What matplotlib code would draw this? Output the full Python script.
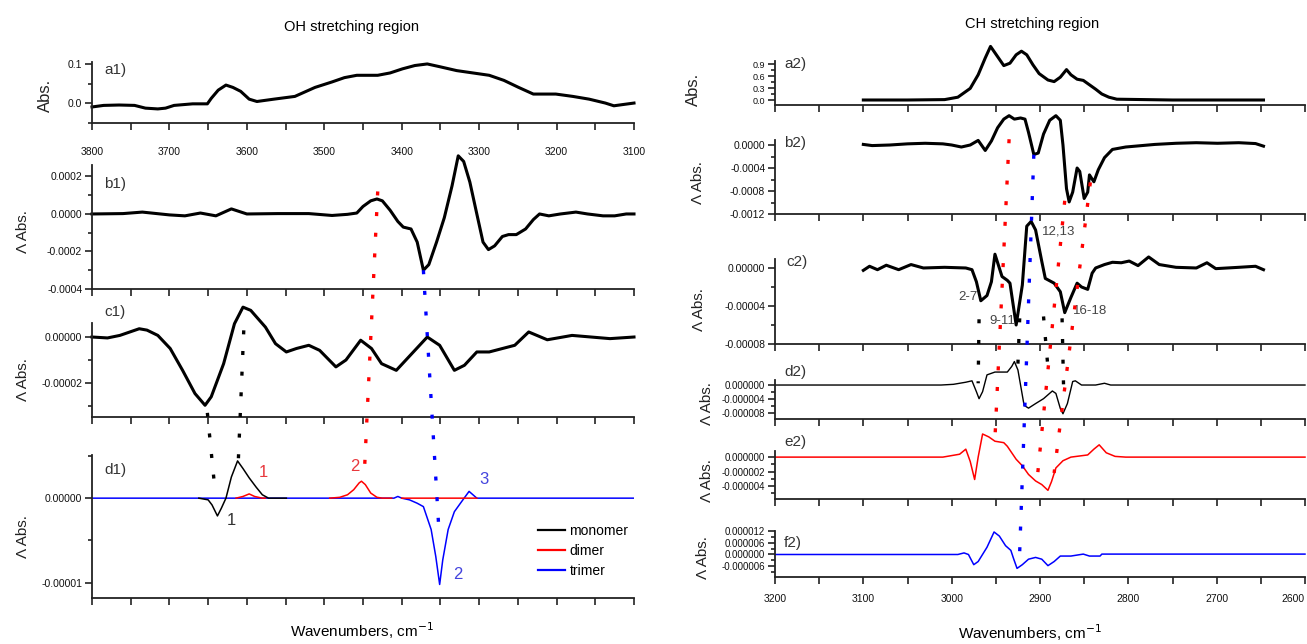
import matplotlib
matplotlib.use('Agg')
import matplotlib.pyplot as plt
from matplotlib.patches import ConnectionPatch
import numpy as np

plt.rcParams['font.family'] = ['Liberation Sans Narrow', 'Liberation Sans', 'DejaVu Sans']

# ---------------- OH stretching region (left column) ----------------
a1_wn = [3800, 3785, 3765, 3745, 3731, 3715, 3705, 3694, 3670, 3651,
         3646, 3637, 3627, 3618, 3608, 3597, 3587, 3565, 3538, 3512,
         3490, 3474, 3458, 3431, 3415, 3399, 3383, 3367, 3351, 3329,
         3308, 3287, 3268, 3249, 3230, 3201, 3179, 3158, 3137, 3126,
         3115, 3100]
a1_abs = [-0.010, -0.006, -0.005, -0.006, -0.013, -0.015, -0.013, -0.006, -0.002, -0.002,
          0.012, 0.033, 0.046, 0.040, 0.030, 0.010, 0.004, 0.010, 0.017, 0.040,
          0.054, 0.065, 0.071, 0.071, 0.077, 0.0875, 0.096, 0.100, 0.093, 0.083,
          0.077, 0.071, 0.058, 0.040, 0.023, 0.023, 0.017, 0.010, 0.0, -0.007,
          -0.004, 0.0]

b1_wn = [3800, 3760, 3735, 3700, 3680, 3660, 3640, 3620, 3600, 3560,
         3520, 3490, 3470, 3458, 3450, 3440, 3432, 3425, 3415, 3405,
         3398, 3388, 3380, 3372, 3365, 3355, 3345, 3335, 3327, 3320,
         3312, 3303, 3295, 3288, 3280, 3270, 3262, 3252, 3240, 3230,
         3222, 3210, 3195, 3175, 3160, 3140, 3125, 3110, 3100]
b1_dabs = [0, 2e-6, 1e-5, -5e-6, -1e-5, 5e-6, -1e-5, 2.7e-5, 0, 2e-6,
           2e-6, -8e-6, -2e-6, 5e-6, 4e-5, 7e-5, 8e-5, 7e-5, 2e-5, -4e-5,
           -7e-5, -8e-5, -1.5e-4, -3.0e-4, -2.7e-4, -1.5e-4, -2e-5, 1.5e-4, 3.1e-4, 2.8e-4,
           1.7e-4, 0, -1.5e-4, -1.9e-4, -1.7e-4, -1.2e-4, -1.1e-4, -1.1e-4, -8e-5, -3e-5,
           0, -1e-5, 0, 1e-5, 0, -1e-5, -1e-5, 0, 0]

c1_wn = [3800, 3780, 3764, 3739, 3729, 3715, 3699, 3683, 3667, 3654,
         3646, 3630, 3616, 3605, 3595, 3576, 3563, 3549, 3536, 3520,
         3506, 3485, 3472, 3453, 3439, 3426, 3407, 3391, 3367, 3351,
         3332, 3319, 3303, 3287, 3254, 3236, 3212, 3180, 3131, 3100]
c1_dabs = [0, -0.4e-6, 0.7e-6, 3.6e-6, 3.0e-6, 0.7e-6, -5.0e-6, -14.5e-6, -24.6e-6, -29.7e-6,
           -26.0e-6, -11.6e-6, 5.8e-6, 13.0e-6, 11.6e-6, 4.3e-6, -2.9e-6, -6.5e-6, -5.0e-6, -3.6e-6,
           -5.8e-6, -13.0e-6, -10.0e-6, -1.4e-6, -5.0e-6, -11.6e-6, -14.5e-6, -8.7e-6, 0.0, -3.6e-6,
           -14.5e-6, -12.3e-6, -6.5e-6, -6.5e-6, -3.6e-6, 2.2e-6, -1.2e-6, 0.7e-6, -0.7e-6, 0.0]

mono_wn = [3662, 3650, 3645, 3638, 3633, 3627, 3620, 3612, 3605, 3597, 3588, 3580, 3572, 3549]
mono_dabs = [0, -2e-7, -8e-7, -2.1e-6, -1.2e-6, 0, 2.5e-6, 4.4e-6, 3.5e-6, 2.4e-6, 1.3e-6, 4e-7, 0, 0]
dimer_wn = [3614, 3605, 3597, 3590, 3580, 3576, np.nan,
            3493, 3480, 3470, 3462, 3455, 3452, 3447, 3440, 3432, 3425, 3413, np.nan,
            3400, 3303]
dimer_dabs = [0, 2e-7, 5e-7, 2e-7, 0, 0, np.nan,
              0, 1e-7, 4e-7, 1e-6, 1.8e-6, 2e-6, 1.6e-6, 6e-7, 1e-7, 0, 0, np.nan,
              0, 0]
trimer_wn = [3800, 3410, 3405, 3400, 3390, 3380, 3372, 3362, 3356, 3351,
             3347, 3340, 3332, 3321, 3313, 3303, 3100]
trimer_dabs = [0, 0, 2e-7, 0, -2e-7, -6e-7, -1.0e-6, -3.7e-6, -6.9e-6, -1.02e-5,
               -7.3e-6, -3.7e-6, -1.6e-6, -2e-7, 8e-7, 0, 0]

# ---------------- CH stretching region (right column) ----------------
a2_wn = [3100, 3050, 3008, 2993, 2979, 2970, 2962, 2956, 2951, 2941,
         2934, 2927, 2921, 2915, 2908, 2901, 2891, 2884, 2877, 2870,
         2865, 2858, 2851, 2844, 2837, 2830, 2822, 2813, 2750, 2700, 2647]
a2_abs = [0, 0, 0.01, 0.07, 0.29, 0.63, 1.05, 1.34, 1.18, 0.86,
          0.92, 1.13, 1.22, 1.13, 0.88, 0.66, 0.50, 0.46, 0.57, 0.76,
          0.63, 0.52, 0.49, 0.38, 0.27, 0.15, 0.07, 0.02, 0.0, 0.0, 0.0]

b2_wn = [3100, 3090, 3070, 3050, 3030, 3010, 3000, 2989, 2979, 2970,
         2962, 2955, 2948, 2941, 2935, 2929, 2922, 2917, 2913, 2907,
         2902, 2896, 2889, 2882, 2877, 2874, 2870, 2867, 2863, 2858,
         2855, 2850, 2846, 2844, 2839, 2834, 2827, 2818, 2803, 2770,
         2746, 2723, 2699, 2675, 2656, 2647]
b2_dabs = [1e-5, -1e-5, 0, 2e-5, 3e-5, 2e-5, 0, -3.5e-5, 0, 8e-5,
           -9.5e-5, 7e-5, 3e-4, 4.5e-4, 5.1e-4, 4.5e-4, 4.7e-4, 4.5e-4, 2.2e-4, -1.65e-4,
           -1.4e-4, 1.9e-4, 4.3e-4, 5.1e-4, 4.3e-4, 0, -7.6e-4, -9.9e-4, -8.2e-4, -4.0e-4,
           -4.6e-4, -9.3e-4, -8.2e-4, -5.2e-4, -6.4e-4, -4.3e-4, -2.2e-4, -7.7e-5, -3.5e-5, 1e-5,
           3e-5, 4e-5, 3e-5, 4e-5, 2.5e-5, -2e-5]

c2_wn = [3100, 3093, 3084, 3074, 3060, 3046, 3032, 3008, 2984, 2977,
         2972, 2967, 2960, 2955, 2951, 2943, 2937, 2934, 2927, 2920,
         2915, 2910, 2905, 2898, 2894, 2884, 2877, 2872, 2865, 2858,
         2853, 2846, 2841, 2837, 2827, 2818, 2808, 2799, 2789, 2777,
         2765, 2746, 2723, 2711, 2701, 2675, 2656, 2647]
c2_dabs = [-2.5e-6, 1.8e-6, -1.8e-6, 2.9e-6, -1.8e-6, 3.6e-6, 0, 0.7e-6, 0, -1.8e-6,
           -14.5e-6, -34.5e-6, -29e-6, -14.5e-6, 14.5e-6, -9e-6, -13e-6, -16e-6, -60e-6, -18e-6,
           44e-6, 49e-6, 40e-6, 7e-6, -11e-6, -16e-6, -25e-6, -47e-6, -31e-6, -16e-6,
           -20e-6, -22.5e-6, -5.5e-6, 0, 3.6e-6, 6e-6, 5.5e-6, 7.3e-6, 2.5e-6, 11.6e-6,
           3.6e-6, 0.7e-6, 0, 5.5e-6, -0.7e-6, 0.7e-6, 1.8e-6, -1.8e-6]

d2_wn = [3200, 3012, 2998, 2984, 2977, 2972, 2969, 2965, 2960, 2951,
         2937, 2932, 2929, 2925, 2918, 2913, 2905, 2896, 2886, 2882,
         2877, 2874, 2869, 2863, 2860, 2853, 2837, 2827, 2820, 2600]
d2_dabs = [0, 0, 0.2e-6, 0.8e-6, 1.2e-6, -1.9e-6, -3.9e-6, -1.9e-6, 2.9e-6, 3.7e-6,
           3.7e-6, 5.3e-6, 6.7e-6, 4.3e-6, -5.8e-6, -6.6e-6, -5.3e-6, -3.9e-6, -1.7e-6, -2.4e-6,
           -6.7e-6, -8.2e-6, -5.3e-6, 1.0e-6, 1.2e-6, 0, 0, 0.5e-6, 0, 0]

e2_wn = [3200, 3010, 2991, 2984, 2979, 2974, 2970, 2965, 2958, 2951,
         2941, 2937, 2927, 2920, 2913, 2905, 2898, 2891, 2887, 2882,
         2874, 2865, 2846, 2839, 2833, 2825, 2815, 2803, 2600]
e2_dabs = [0, 0, 0.4e-6, 1.1e-6, -0.6e-6, -3.1e-6, 0, 3.2e-6, 2.8e-6, 2.2e-6,
           2.0e-6, 1.5e-6, -0.3e-6, -1.2e-6, -2.4e-6, -3.3e-6, -3.8e-6, -4.6e-6, -3.4e-6, -1.5e-6,
           -0.5e-6, 0, 0.3e-6, 1.1e-6, 1.7e-6, 0.6e-6, 0.1e-6, 0, 0]

f2_wn = [3200, 2993, 2986, 2981, 2975, 2970, 2960, 2952, 2946, 2939,
         2933, 2930, 2926, 2920, 2913, 2905, 2898, 2891, 2884, 2877,
         2865, 2858, 2851, 2844, 2832, 2830, 2600]
f2_dabs = [0, 0, 0.8e-6, 0, -5.2e-6, -3.6e-6, 3.7e-6, 11.5e-6, 9.4e-6, 4.5e-6,
           2.1e-6, -2.0e-6, -7.1e-6, -5.2e-6, -2.4e-6, -1.5e-6, -2.4e-6, -5.7e-6, -3.6e-6, -0.8e-6,
           -0.8e-6, -0.3e-6, 0.2e-6, -0.8e-6, -0.8e-6, 0.2e-6, 0.2e-6]

# dotted guide lines: colour, panel A, (wn, value), panel B, (wn, value)
guide_links = [
    ('red', 'b1', 3431, 1.2e-4, 'd1', 3448, 3.5e-6),
    ('blue', 'b1', 3372, -3.0e-4, 'd1', 3352, -3.7e-6),
    ('blue', 'b1', 3327, 3.3e-4, 'd1', 3313, 2.0e-6),
    ('black', 'c1', 3604, 2.9e-6, 'd1', 3611, 4.5e-6),
    ('black', 'c1', 3651, -3.3e-5, 'd1', 3641, 0.8e-6),
    ('red', 'b2', 2935, 1.0e-4, 'e2', 2951, 2.6e-6),
    ('red', 'b2', 2872, -9.7e-4, 'e2', 2903, -2.8e-6),
    ('red', 'b2', 2843, -6.5e-4, 'e2', 2884, -2.2e-6),
    ('blue', 'b2', 2907, -1.7e-4, 'f2', 2923, 1.3e-6),
    ('black', 'c2', 2969, -5.4e-5, 'd2', 2970, 0.5e-6),
    ('black', 'c2', 2923, -5.3e-5, 'd2', 2925, 6.0e-6),
    ('black', 'c2', 2896, -5.1e-5, 'd2', 2890, 2.0e-6),
    ('black', 'c2', 2875, -5.3e-5, 'd2', 2873, -4.3e-6),
]

W, H = 1307, 644
fig = plt.figure(figsize=(W / 100, H / 100), dpi=100)


def px_box(l, t, r, b):
    return [l / W, 1 - b / H, (r - l) / W, (b - t) / H]


def style(ax, xlim, xmaj, xmin, ylim, yt, ylab, ymin, xlabels=False, spine_top=None):
    ax.set_xlim(xlim)
    ax.set_ylim(ylim)
    ax.patch.set_alpha(0)
    for s in ['top', 'right']:
        ax.spines[s].set_visible(False)
    for s in ['left', 'bottom']:
        ax.spines[s].set_linewidth(1.3)
        ax.spines[s].set_color('#222222')
    if spine_top is not None:
        ax.spines['left'].set_bounds(ylim[0], spine_top)
    ax.set_xticks(xmaj)
    ax.set_xticks(xmin, minor=True)
    if not xlabels:
        ax.set_xticklabels([])
    ax.set_yticks(yt, ylab)
    ax.set_yticks(ymin, minor=True)
    ax.tick_params(which='both', direction='out', width=1.2, color='#222222',
                   labelsize=7.5, labelcolor='#111111')
    ax.tick_params(axis='x', which='both', length=5)
    ax.tick_params(axis='y', which='major', length=5, pad=2)
    ax.tick_params(axis='y', which='minor', length=3)


oh_major = [3800, 3700, 3600, 3500, 3400, 3300, 3200, 3100]
oh_minor = [3750, 3650, 3550, 3450, 3350, 3250, 3150]
ch_major = [3200, 3100, 3000, 2900, 2800, 2700, 2600]
ch_minor = [3150, 3050, 2950, 2850, 2750, 2650]

axes = {}
axes['a1'] = fig.add_axes(px_box(92, 62, 634, 123))
style(axes['a1'], (3800, 3100), oh_major, oh_minor, (-0.051, 0.105),
      [0.0, 0.1], ['0.0', '0.1'], [-0.05, 0.05], xlabels=True)
axes['a1'].tick_params(axis='x', pad=12)

axes['b1'] = fig.add_axes(px_box(92, 153, 634, 289))
style(axes['b1'], (3800, 3100), oh_major, oh_minor, (-0.0004, 0.000325),
      [-0.0004, -0.0002, 0.0, 0.0002], ['-0.0004', '-0.0002', '0.0000', '0.0002'],
      [-0.0003, -0.0001, 0.0001], spine_top=0.00026)

axes['c1'] = fig.add_axes(px_box(92, 303, 634, 417))
style(axes['c1'], (3800, 3100), oh_major, oh_minor, (-0.0000348, 0.0000148),
      [-0.00002, 0.0], ['-0.00002', '0.00000'], [-0.00003, -0.00001], spine_top=0.000006)

axes['d1'] = fig.add_axes(px_box(92, 455, 634, 598))
style(axes['d1'], (3800, 3100), oh_major, oh_minor, (-0.0000118, 0.0000051),
      [-0.00001, 0.0], ['-0.00001', '0.00000'], [-0.000005, 0.000005])

axes['a2'] = fig.add_axes(px_box(775, 45, 1305, 105))
style(axes['a2'], (3200, 2600), ch_major, ch_minor, (-0.125, 1.375),
      [0.0, 0.3, 0.6, 0.9], ['0.0', '0.3', '0.6', '0.9'], [0.15, 0.45, 0.75], spine_top=0.97)
axes['a2'].tick_params(axis='y', labelsize=6.5)

axes['b2'] = fig.add_axes(px_box(775, 112, 1305, 214))
style(axes['b2'], (3200, 2600), ch_major, ch_minor, (-0.0012, 0.000574),
      [-0.0012, -0.0008, -0.0004, 0.0], ['-0.0012', '-0.0008', '-0.0004', '0.0000'],
      [-0.001, -0.0006, -0.0002], spine_top=0.00009)

axes['c2'] = fig.add_axes(px_box(775, 218, 1305, 344))
style(axes['c2'], (3200, 2600), ch_major, ch_minor, (-0.00008, 0.0000526),
      [-0.00008, -0.00004, 0.0], ['-0.00008', '-0.00004', '0.00000'],
      [-0.00006, -0.00002], spine_top=0.0000095)

axes['d2'] = fig.add_axes(px_box(775, 357, 1305, 419))
style(axes['d2'], (3200, 2600), ch_major, ch_minor, (-0.0000097, 0.000008),
      [-0.000008, -0.000004, 0.0], ['-0.000008', '-0.000004', '0.000000'],
      [-0.000006, -0.000002], spine_top=0.0000014)

axes['e2'] = fig.add_axes(px_box(775, 434, 1305, 499))
style(axes['e2'], (3200, 2600), ch_major, ch_minor, (-0.0000058, 0.0000032),
      [-0.000004, -0.000002, 0.0], ['-0.000004', '-0.000002', '0.000000'],
      [-0.000005, -0.000003, -0.000001], spine_top=0.0000008)

axes['f2'] = fig.add_axes(px_box(775, 531, 1305, 577))
style(axes['f2'], (3200, 2600), ch_major, ch_minor, (-0.0000115, 0.000012),
      [-0.000006, 0.0, 0.000006, 0.000012], ['-0.000006', '0.000000', '0.000006', '0.000012'],
      [-0.000009, -0.000003, 0.000003, 0.000009], xlabels=True)
axes['f2'].tick_params(axis='x', pad=7)
axes['f2'].get_xticklabels()[-1].set_horizontalalignment('right')
for ax in ['d2', 'e2', 'f2']:
    axes[ax].tick_params(axis='y', labelsize=7)

# curves
thick = dict(color='black', lw=2.2, solid_joinstyle='round', clip_on=False)
axes['a1'].plot(a1_wn, a1_abs, **thick)
axes['b1'].plot(b1_wn, b1_dabs, **thick)
axes['c1'].plot(c1_wn, c1_dabs, **thick)
axes['a2'].plot(a2_wn, a2_abs, **thick)
axes['b2'].plot(b2_wn, b2_dabs, **thick)
axes['c2'].plot(c2_wn, c2_dabs, **thick)

axd = axes['d1']
axd.plot(trimer_wn, trimer_dabs, color='#0000ff', lw=1.1, label='trimer', zorder=2)
axd.plot(dimer_wn, dimer_dabs, color='#ff0000', lw=1.1, label='dimer', zorder=3)
axd.plot(mono_wn, mono_dabs, color='black', lw=1.1, label='monomer', zorder=4)
h, l = axd.get_legend_handles_labels()
leg = axd.legend(h[::-1], l[::-1], loc='lower right', bbox_to_anchor=(1.0, 0.1),
                 frameon=False, fontsize=10, handlelength=2.0, handletextpad=0.3,
                 labelspacing=0.45, borderaxespad=0.0)
for line in leg.get_lines():
    line.set_linewidth(1.6)

axes['d2'].plot(d2_wn, d2_dabs, color='black', lw=1.0, clip_on=False)
axes['e2'].plot(e2_wn, e2_dabs, color='#ff0000', lw=1.1, clip_on=False)
axes['f2'].plot(f2_wn, f2_dabs, color='#0000ff', lw=1.1, clip_on=False)

# peak numbers in d1
num_kw = dict(fontsize=12, ha='left', va='center')
axd.text(3626, -2.6e-6, '1', color='#333333', **num_kw)
axd.text(3584, 3.0e-6, '1', color='#e8383d', **num_kw)
axd.text(3467, 3.7e-6, '2', color='#e8383d', **num_kw)
axd.text(3333, -9.0e-6, '2', color='#4444dd', **num_kw)
axd.text(3300, 2.2e-6, '3', color='#4444dd', **num_kw)

# band labels in c2
lab_kw = dict(fontsize=9.5, color='#444444', va='center')
axes['c2'].text(2971, -3.1e-5, '2-7', ha='right', **lab_kw)
axes['c2'].text(2957, -5.6e-5, '9-11', ha='left', **lab_kw)
axes['c2'].text(2898, 3.8e-5, '12,13', ha='left', **lab_kw)
axes['c2'].text(2863, -4.5e-5, '16-18', ha='left', **lab_kw)

# panel tags
tags = {'a1': (104, 70), 'b1': (104, 184), 'c1': (104, 312), 'd1': (104, 470),
        'a2': (784, 64), 'b2': (784, 143), 'c2': (786, 262), 'd2': (784, 372),
        'e2': (784, 442), 'f2': (784, 543)}
for k, (x, y) in tags.items():
    fig.text(x / W, 1 - y / H, k + ')', fontsize=11, color='#333333', ha='left', va='center')

# y labels
ylabs = [('Abs.', 45, 95), ('Λ Abs.', 23, 232), ('Λ Abs.', 23, 380), ('Λ Abs.', 23, 537),
         ('Abs.', 693, 89), ('Λ Abs.', 698, 183), ('Λ Abs.', 699, 310), ('Λ Abs.', 707, 404),
         ('Λ Abs.', 707, 481), ('Λ Abs.', 703, 558)]
for t, x, y in ylabs:
    fs = 12 if t == 'Abs.' else 11
    fig.text(x / W, 1 - y / H, t, rotation=90, fontsize=fs, ha='center', va='center', color='#222222')

fig.text(351 / W, 1 - 27 / H, 'OH stretching region', fontsize=10.5, ha='center', va='center')
fig.text(1032 / W, 1 - 24 / H, 'CH stretching region', fontsize=10.5, ha='center', va='center')
fig.text(362 / W, 1 - 631 / H, 'Wavenumbers, cm$^{-1}$', fontsize=11, ha='center', va='center')
fig.text(1030 / W, 1 - 633 / H, 'Wavenumbers, cm$^{-1}$', fontsize=11, ha='center', va='center')

# dotted guide lines across panels
for color, pa, xa, ya, pb, xb, yb in guide_links:
    con = ConnectionPatch(xyA=(xa, ya), coordsA='data', axesA=axes[pa],
                          xyB=(xb, yb), coordsB='data', axesB=axes[pb],
                          color=color, lw=2.4, linestyle=(0, (1.2, 5.0)),
                          capstyle='butt', zorder=10)
    fig.add_artist(con)

fig.savefig('out.png', dpi=100)
